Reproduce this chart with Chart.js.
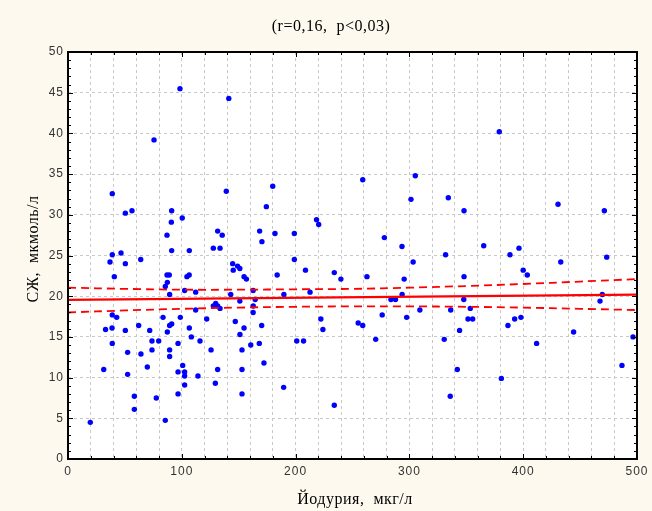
<!DOCTYPE html>
<html>
<head>
<meta charset="utf-8">
<script src="https://cdn.jsdelivr.net/npm/chart.js@4.4.1/dist/chart.umd.min.js"></script>
<style>
  html, body { margin: 0; padding: 0; background: #fdf9ee; }
  #wrap { width: 652px; height: 511px; }
</style>
</head>
<body>
<div id="wrap"><canvas id="corrChart" width="652" height="511"></canvas></div>
<script>
// Йодурия (мкг/л) vs СЖ (мкмоль/л)
const iodX = [
  19.6, 31.4, 33, 36.9, 38.9, 38.9, 40.7, 38.9, 42.8, 38.7, 38.9, 46.6, 50.4, 50.4, 56.2,
  50.4, 52.4, 52.4, 58.3, 58.3, 62.1, 63.9, 64.1, 69.7, 71.8, 73.8, 73.8, 75.6, 77.6, 79.7,
  83.5, 85.5, 87.3, 85.5, 87, 87, 89, 89.3, 87.3, 89.3, 91.1, 89.3, 89.3, 90.8, 91.1,
  91.1, 96.7, 98.7, 96.7, 96.7, 98.4, 100.4, 100.8, 102.5, 102.5, 102.5, 102.5, 104.5, 106.5, 106.6,
  106.6, 108.4, 112.2, 112.2, 114.2, 116, 121.9, 125.7, 127.7, 133.6, 131.5, 135.5, 129.5, 131.5, 127.7,
  129.8, 131.5, 133.6, 139.1, 141.3, 143, 144.7, 145.2, 149, 151, 154.7, 156.8, 147, 151.1, 151,
  152.9, 152.9, 152.9, 154.7, 160.6, 162.7, 164.5, 162.8, 162.7, 168.4, 170.4, 170.2, 168.1, 172.2, 174.3,
  179.9, 181.9, 183.8, 189.7, 189.5, 198.9, 198.9, 201, 207, 208.7, 212.7, 218.4, 220.3, 222.2, 224,
  234, 239.8, 234, 255, 259, 259, 262.7, 270.4, 276.1, 278, 283.8, 287.8, 293.6, 293.5, 295.4,
  297.6, 301.4, 305.2, 303.3, 309.2, 330.6, 331.8, 334.2, 335.9, 336.3, 342.1, 344.1, 347.8, 348, 348,
  351.5, 355.6, 353.5, 365.3, 379, 380.8, 386.6, 388.4, 392.5, 396.3, 398, 400, 403.6, 411.8, 430.6,
  433, 444.3, 467.5, 469.5, 471.3, 473.4, 486.8, 496.5
];
const szY = [
  4.5, 11.0, 15.9, 24.2, 25.1, 32.6, 22.4, 17.7, 17.4, 16.1, 14.2, 25.3, 24.0, 30.2, 30.5,
  15.8, 13.1, 10.4, 7.7, 6.1, 16.4, 24.5, 12.9, 11.3, 15.8, 14.5, 13.4, 39.2, 7.5, 14.5,
  17.4, 21.2, 21.7, 4.75, 27.5, 22.6, 22.6, 20.2, 15.6, 16.4, 16.6, 13.4, 12.6, 29.1, 30.5,
  25.6, 14.2, 17.4, 10.7, 8.0, 45.5, 29.6, 11.5, 10.7, 10.2, 9.1, 20.7, 22.4, 22.6, 25.6,
  16.1, 15.0, 20.5, 18.3, 10.2, 14.5, 17.2, 13.4, 25.9, 25.9, 28.0, 27.5, 9.3, 11.0, 18.8,
  19.1, 18.8, 18.5, 32.9, 44.3, 20.2, 24.0, 23.2, 23.7, 23.4, 22.4, 22.1, 16.9, 15.3, 19.4,
  13.4, 11.0, 8.0, 16.1, 14.0, 20.7, 19.6, 18.8, 18.0, 28.0, 26.7, 16.4, 14.2, 11.8, 31.0,
  33.5, 27.7, 22.6, 20.2, 8.8, 27.7, 24.5, 14.5, 14.5, 23.2, 20.5, 29.4, 28.8, 17.2, 15.9,
  22.9, 22.1, 6.6, 16.7, 16.4, 34.3, 22.4, 14.7, 17.7, 27.2, 19.6, 19.6, 20.2, 26.1, 22.1,
  17.4, 31.9, 34.8, 24.2, 18.3, 14.7, 25.1, 32.1, 7.7, 18.3, 11.0, 15.8, 19.6, 22.4, 30.5,
  17.2, 17.2, 18.5, 26.2, 40.2, 9.9, 16.4, 25.1, 17.2, 25.9, 17.4, 23.2, 22.6, 14.2, 31.3,
  24.2, 15.6, 19.4, 20.2, 30.5, 24.8, 11.5, 15.0
];

// regression line and 95% band, read at these x positions
const fitX = [0, 500];
const fitY = [19.55, 20.2];
const bandX = [0, 50, 100, 150, 200, 250, 300, 350, 400, 450, 500];
const bandUpper = [21.05, 20.9, 20.8, 20.8, 20.85, 20.9, 21.05, 21.25, 21.5, 21.8, 22.1];
const bandLower = [18.0, 18.25, 18.45, 18.6, 18.7, 18.75, 18.75, 18.7, 18.6, 18.45, 18.3];

const xLabels = [0, 100, 200, 300, 400, 500];
const titleText = '(r=0,16,  p<0,03)';
const xTitle = 'Йодурия,  мкг/л';
const yTitle = 'СЖ,  мкмоль/л';

const toPts = (xs, ys) => xs.map((x, i) => ({ x: x, y: ys[i] }));

// background, frame, inside ticks and titles
const framePlugin = {
    id: 'frame',
    beforeDraw(chart) {
        const c = chart.ctx, a = chart.chartArea;
        c.save();
        c.fillStyle = '#fdf9ee';
        c.fillRect(0, 0, chart.width, chart.height);
        c.fillStyle = '#ffffff';
        c.fillRect(a.left, a.top, a.right - a.left, a.bottom - a.top);
        c.restore();
        // wider tracking for the tick numbers, like the original
        c.letterSpacing = '1px';
    },
    afterDraw(chart) {
        const c = chart.ctx, a = chart.chartArea;
        const xs = chart.scales.x, ys = chart.scales.y;
        c.letterSpacing = '0px';
        c.save();
        c.strokeStyle = '#000';
        c.lineWidth = 1;
        c.beginPath();
        for (let v = 0; v <= 500; v += 20) {
            const px = Math.round(xs.getPixelForValue(v)) + 0.5;
            const len = v % 100 === 0 ? 5 : 3;
            c.moveTo(px, a.bottom); c.lineTo(px, a.bottom - len);
            c.moveTo(px, a.top); c.lineTo(px, a.top + len);
        }
        for (let v = 0; v <= 50; v += 1) {
            const py = Math.round(ys.getPixelForValue(v)) + 0.5;
            const len = v % 5 === 0 ? 5 : 3;
            c.moveTo(a.left, py); c.lineTo(a.left + len, py);
            c.moveTo(a.right, py); c.lineTo(a.right - len, py);
        }
        c.stroke();
        c.lineWidth = 2;
        c.strokeRect(a.left, a.top, a.right - a.left, a.bottom - a.top);

        c.fillStyle = '#000';
        c.textAlign = 'center';
        c.textBaseline = 'alphabetic';
        c.letterSpacing = '0.5px';
        c.font = '16px "Liberation Serif", serif';
        c.fillText(titleText, 331, 31);
        c.fillText(xTitle, 355, 504);
        c.translate(38, 249);
        c.rotate(-Math.PI / 2);
        c.fillText(yTitle, 0, 0);
        c.restore();
    }
};

new Chart(document.getElementById('corrChart'), {
    type: 'scatter',
    data: {
        datasets: [
            {
                label: 'upper',
                type: 'line',
                data: toPts(bandX, bandUpper),
                borderColor: '#ff0000',
                borderWidth: 1.8,
                borderDash: [8, 5],
                pointRadius: 0,
                tension: 0.4,
                fill: false
            },
            {
                label: 'lower',
                type: 'line',
                data: toPts(bandX, bandLower),
                borderColor: '#ff0000',
                borderWidth: 1.8,
                borderDash: [8, 5],
                pointRadius: 0,
                tension: 0.4,
                fill: false
            },
            {
                label: 'fit',
                type: 'line',
                data: toPts(fitX, fitY),
                borderColor: '#ff0000',
                borderWidth: 2.2,
                pointRadius: 0,
                fill: false
            },
            {
                label: 'points',
                data: toPts(iodX, szY),
                backgroundColor: '#0000ff',
                borderWidth: 0,
                pointRadius: 2.7
            }
        ]
    },
    options: {
        responsive: false,
        animation: false,
        layout: { padding: { top: 52, right: 15, left: 0, bottom: 0 } },
        plugins: { legend: { display: false }, tooltip: { enabled: false }, title: { display: false } },
        scales: {
            x: {
                type: 'linear',
                min: 0, max: 500,
                afterFit(s) { s.height = 52; },
                grid: { color: '#c8c8c8', lineWidth: 1, drawTicks: false },
                border: { display: false, dash: [3, 3] },
                ticks: {
                    stepSize: 20,
                    autoSkip: false,
                    maxRotation: 0,
                    padding: 5,
                    color: '#333',
                    font: { family: '"Liberation Sans", Arial, sans-serif', size: 12 },
                    callback: v => xLabels.includes(v) ? String(v) : ''
                }
            },
            y: {
                min: 0, max: 50,
                afterFit(s) { s.width = 68; },
                grid: { color: '#c8c8c8', lineWidth: 1, drawTicks: false },
                border: { display: false, dash: [3, 3] },
                ticks: {
                    stepSize: 5,
                    padding: 4,
                    color: '#333',
                    font: { family: '"Liberation Sans", Arial, sans-serif', size: 12 }
                }
            }
        }
    },
    plugins: [framePlugin]
});
</script>
</body>
</html>
